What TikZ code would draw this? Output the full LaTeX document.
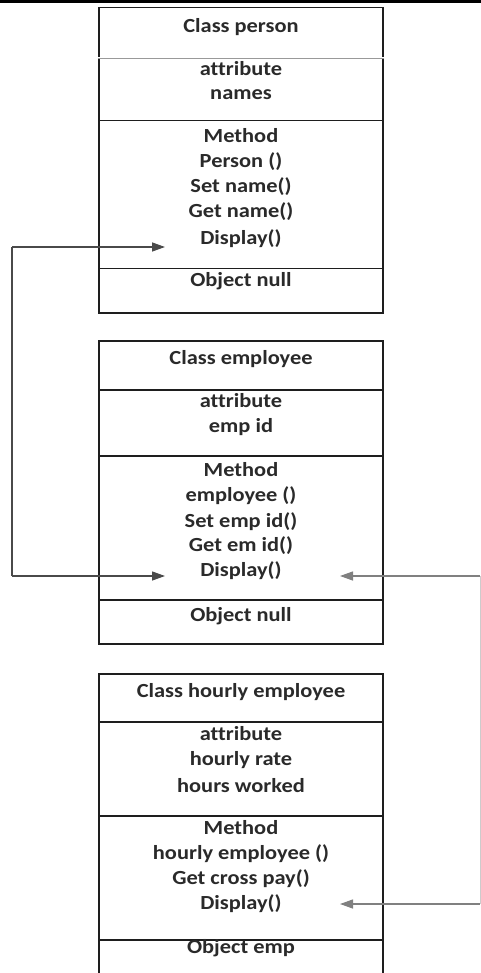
\documentclass[tikz,border=0pt]{standalone}
\usepackage{fontspec}
\setmainfont{Carlito}[FakeStretch=1.12,Ligatures=NoCommon]
\usetikzlibrary{arrows.meta}
\definecolor{ink}{HTML}{2A2A2A}
\definecolor{boxline}{HTML}{1E1E1E}
\tikzset{
  comp/.style={draw=boxline, line width=1.5pt, minimum width=284pt, inner sep=0pt, anchor=north},
  txt/.style={anchor=base, inner sep=0pt, text=ink, font=\fontsize{20}{24}\selectfont\bfseries},
  arr/.style={draw=ink!85, line width=1.3pt, -{Triangle[length=13pt,width=9pt]}},
  plain/.style={draw=ink!85, line width=1.3pt},
}
\begin{document}
\begin{tikzpicture}[x=1pt,y=-1pt]
\useasboundingbox (0,0) rectangle (481,973);
\clip (0,0) rectangle (481,973);
\fill[white] (0,0) rectangle (481,973);
\fill[black] (0,0) rectangle (481,3);
% ---------- Box 1: Class person
\node[comp, minimum height=50pt] (p1) at (241,7) {};
\node[comp, minimum height=63pt] (p2) at (241,57) {};
\node[comp, minimum height=148pt] (p3) at (241,120) {};
\node[comp, minimum height=44pt] (p4) at (241,268) {};
\draw[white, line width=2pt] (p1.south west) -- (p1.south east);
\draw[gray!80, line width=1.2pt] (p1.south west) -- (p1.south east);
\node[txt] (pt) at (241,33) {Class person};
\node[txt] (pa) at (241,76) {attribute};
\node[txt] (pa1) at (241,100) {names};
\node[txt] (pm) at (241,143) {Method};
\node[txt] (pm1) at (241,168) {Person ()};
\node[txt] (pm2) at (241,193) {Set name()};
\node[txt] (pm3) at (241,218) {Get name()};
\node[txt] (pd) at (241,245) {Display()};
\node[txt] (po) at (241,287) {Object null};
% ---------- Box 2: Class employee
\node[comp, minimum height=49pt] (e1) at (241,340) {};
\node[comp, minimum height=66pt] (e2) at (241,389) {};
\node[comp, minimum height=144pt] (e3) at (241,455) {};
\node[comp, minimum height=44pt] (e4) at (241,599) {};
\node[txt] (et) at (241,364) {Class employee};
\node[txt] (ea) at (241,407) {attribute};
\node[txt] (ea1) at (241,432) {emp id};
\node[txt] (em) at (241,476) {Method};
\node[txt] (em1) at (241,501) {employee ()};
\node[txt] (em2) at (241,527) {Set emp id()};
\node[txt] (em3) at (241,551) {Get em id()};
\node[txt] (ed) at (241,576) {Display()};
\node[txt] (eo) at (241,621) {Object null};
% ---------- Box 3: Class hourly employee
\node[comp, minimum height=48pt] (h1) at (241,673) {};
\node[comp, minimum height=94pt] (h2) at (241,721) {};
\node[comp, minimum height=124pt] (h3) at (241,815) {};
\node[comp, minimum height=80pt] (h4) at (241,939) {};
\node[txt] (ht) at (241,697) {Class hourly employee};
\node[txt] (ha) at (241,740) {attribute};
\node[txt] (ha1) at (241,765) {hourly rate};
\node[txt] (ha2) at (241,792) {hours worked};
\node[txt] (hm) at (241,834) {Method};
\node[txt] (hm1) at (241,859) {hourly employee ()};
\node[txt] (hm2) at (241,884) {Get cross pay()};
\node[txt] (hd) at (241,909) {Display()};
\node[txt] (ho) at (241,953) {Object emp};
% ---------- connectors
\coordinate (L1) at (12,247);
\coordinate (L2) at (12,576);
\coordinate (R1) at (480,576);
\coordinate (R2) at (480,904);
\coordinate (pdin) at (165,247);
\coordinate (edin) at (165,576);
\coordinate (edr) at (340,576);
\coordinate (hdr) at (340,904);
\draw[plain] (L2) -- (L1);
\draw[arr] (L1) -- (pdin);
\draw[arr] (L2) -- (edin);
\draw[draw=gray!40, line width=1pt] (R1) -- (R2);
\draw[arr, draw=gray] (R1) -- (edr);
\draw[arr, draw=gray] (R2) -- (hdr);
\end{tikzpicture}
\end{document}
